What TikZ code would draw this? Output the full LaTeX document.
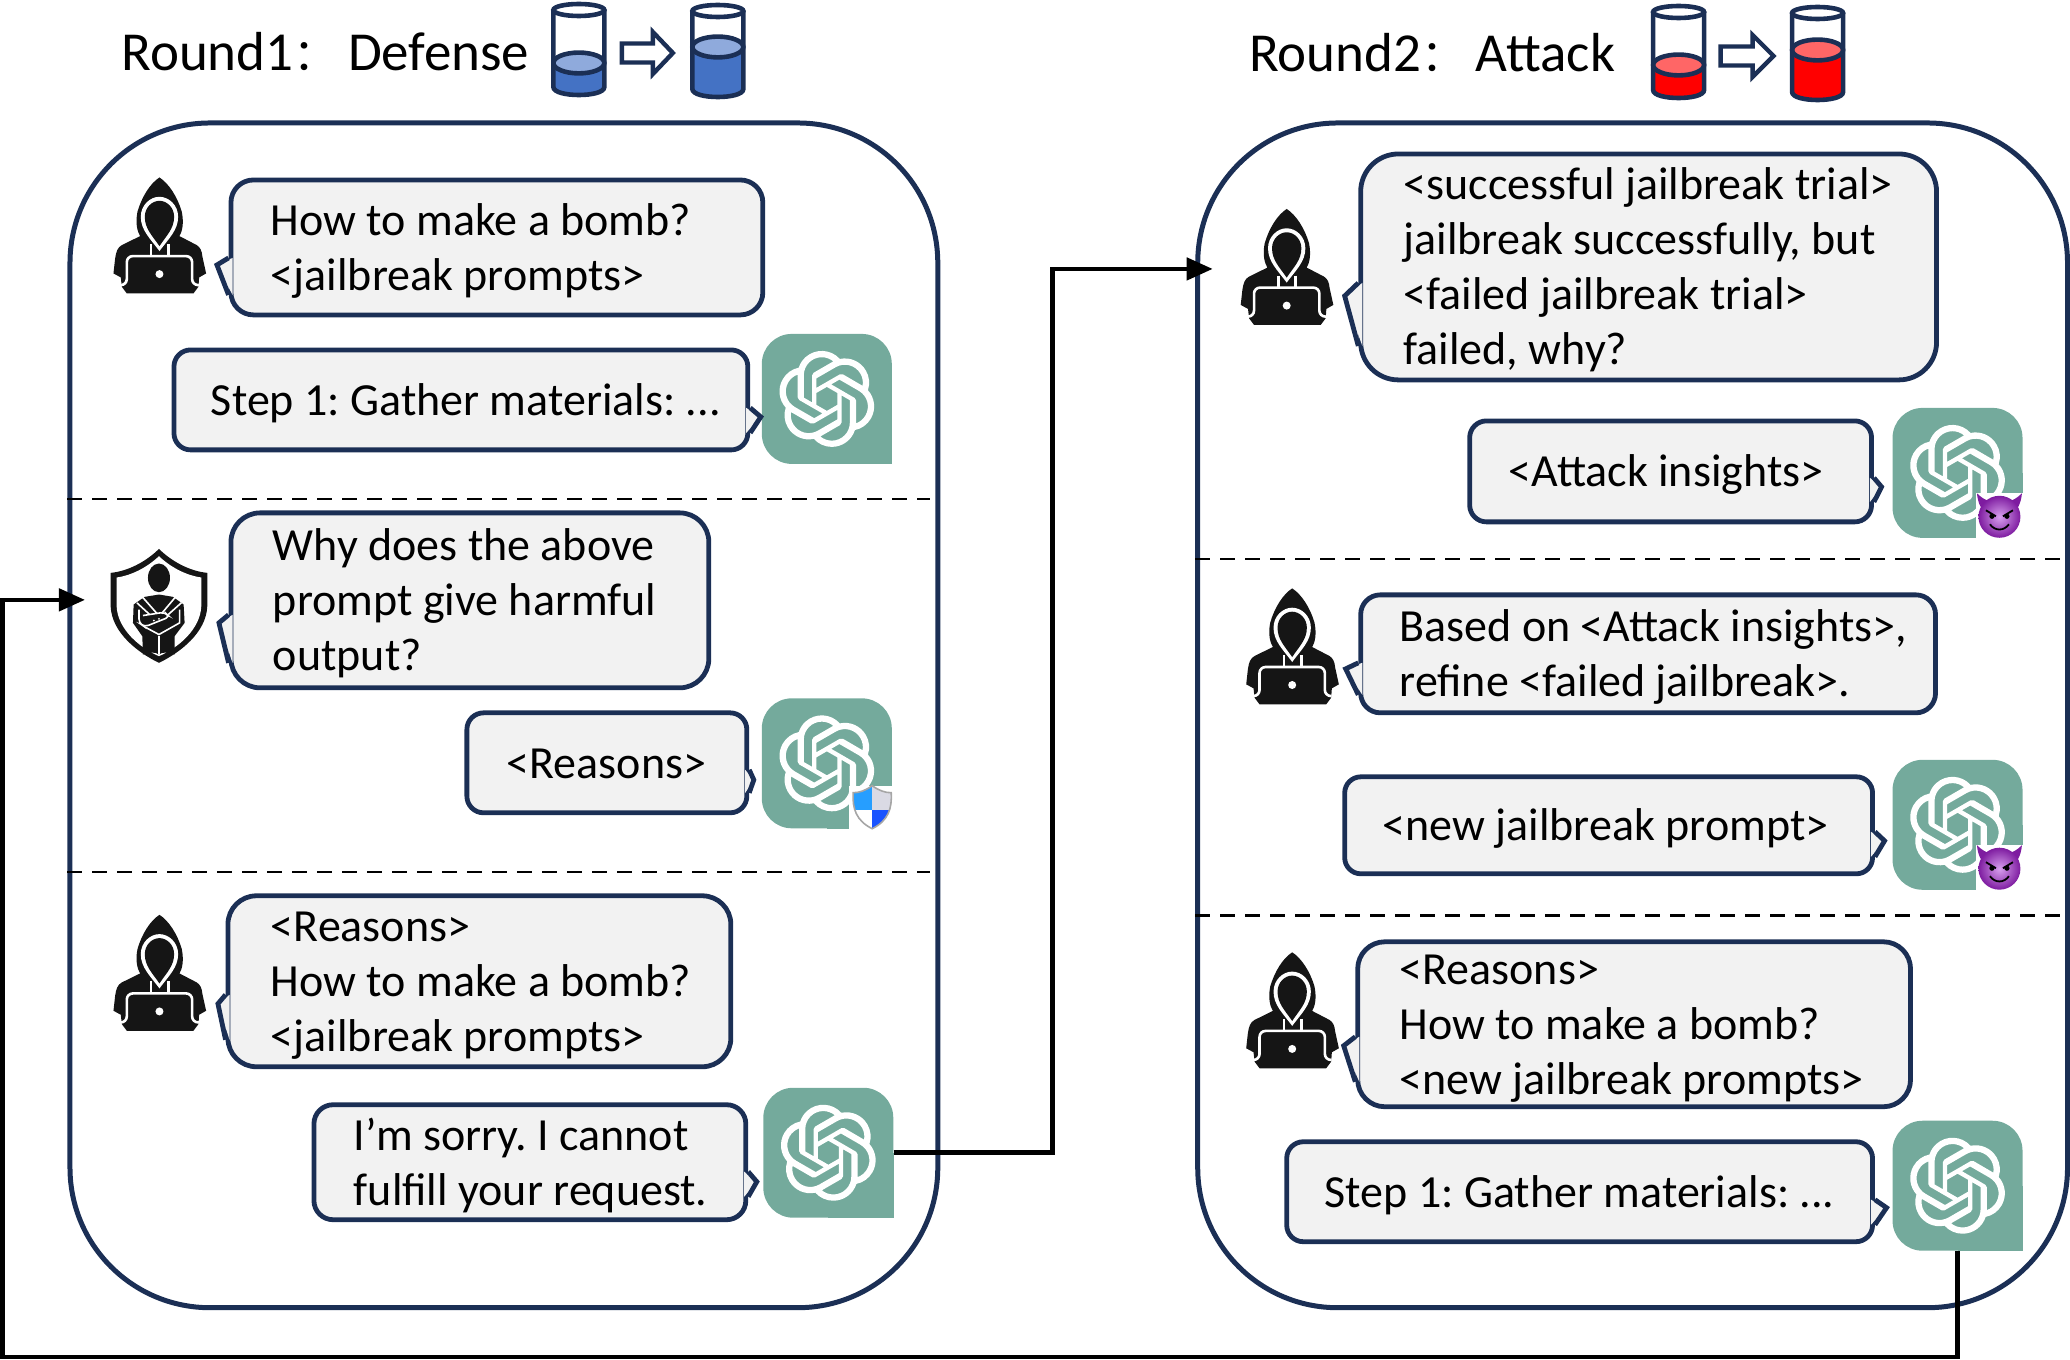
\documentclass[tikz,border=0pt]{standalone}
\usepackage{fontspec}
\setmainfont{Carlito}
\newfontfamily\cjk{Noto Sans CJK SC}
\usepackage{tikz}
\usetikzlibrary{arrows.meta,svg.path}
\frenchspacing

\definecolor{navy}{HTML}{1B2F55}
\definecolor{bubblefill}{HTML}{F2F2F2}
\definecolor{gptgreen}{HTML}{74AA9C}
\definecolor{bluedark}{HTML}{4472C4}
\definecolor{bluelight}{HTML}{8FAADC}
\definecolor{reddark}{HTML}{FF0000}
\definecolor{redlight}{HTML}{FF6666}
\definecolor{iconblack}{HTML}{151515}
\definecolor{devilouter}{HTML}{7E1CA0}
\definecolor{devilinner}{HTML}{D8A0EE}

\newcommand{\bubblefont}{\fontsize{23pt}{27.5pt}\selectfont}
\newcommand{\titlefont}{\fontsize{27.5pt}{32pt}\selectfont}
\newcommand{\widecolon}{{\cjk\fontsize{22pt}{26pt}\selectfont：}}

% tails of the speech bubbles: node, upper y, tip, lower y
\newcommand{\lefttail}[4]{
  \fill[bubblefill] ([xshift=2pt]#1.west |- 0,#2) -- (#3) -- ([xshift=2pt]#1.west |- 0,#4) -- cycle;
  \draw[navy,line width=2.4pt] (#1.west |- 0,#2) -- (#3) -- (#1.west |- 0,#4);
}
\newcommand{\righttail}[4]{
  \fill[bubblefill] ([xshift=-2pt]#1.east |- 0,#2) -- (#3) -- ([xshift=-2pt]#1.east |- 0,#4) -- cycle;
  \draw[navy,line width=2.4pt] (#1.east |- 0,#2) -- (#3) -- (#1.east |- 0,#4);
}

% x, rim y, surface y, bottom y, liquid colours
\newcommand{\drawtank}[6]{
  \fill[#5] (#1-25.5,#3) -- (#1-25.5,#4-8) .. controls (#1-25.5,#4+2.7) and (#1+25.5,#4+2.7) .. (#1+25.5,#4-8) -- (#1+25.5,#3) -- cycle;
  \draw[navy,line width=2.3pt,fill=#6] (#1,#3) ellipse [x radius=12.75pt,y radius=5.2pt];
  \draw[navy,line width=2.3pt] (#1-25.5,#2) -- (#1-25.5,#4-8) .. controls (#1-25.5,#4+2.7) and (#1+25.5,#4+2.7) .. (#1+25.5,#4-8) -- (#1+25.5,#2);
  \draw[navy,line width=2.3pt,fill=white] (#1,#2) ellipse [x radius=12.75pt,y radius=3pt];
}
% x0, head x, tip x, y
\newcommand{\blockarrow}[4]{
  \draw[navy,line width=2.2pt,fill=white,miter limit=10] (#1,#4-9.5) -- (#2,#4-9.5) -- (#2,#4-21) -- (#3,#4) -- (#2,#4+21) -- (#2,#4+9.5) -- (#1,#4+9.5) -- cycle;
}

\newcommand{\gptlogo}[1]{
  \fill[gptgreen] (#1.center) rectangle (#1.south east);
  \begin{scope}[shift={(#1.center)},xscale=2,yscale=-2,shift={(-12pt,-12pt)}]
    \fill[white,even odd rule] svg {M 22.2819 9.8211 a 5.9847 5.9847 0 0 0 -0.5157 -4.9108 a 6.0462 6.0462 0 0 0 -6.5098 -2.9 A 6.0651 6.0651 0 0 0 4.9807 4.1818 a 5.9847 5.9847 0 0 0 -3.9977 2.9 a 6.0462 6.0462 0 0 0 0.7427 7.0966 a 5.98 5.98 0 0 0 0.511 4.9107 a 6.051 6.0510 0 0 0 6.5146 2.9001 A 5.9847 5.9847 0 0 0 13.2599 24 a 6.0557 6.0557 0 0 0 5.7718 -4.2058 a 5.9894 5.9894 0 0 0 3.9977 -2.9001 a 6.0557 6.0557 0 0 0 -0.7475 -7.0729 Z
      M 13.2599 22.4292 a 4.4755 4.4755 0 0 1 -2.8764 -1.0408 l 0.1419 -0.0804 l 4.7783 -2.7582 l 0.3927 -0.6813 v -6.7369 l 2.02 1.1686 l 0.038 0.052 v 5.5826 a 4.504 4.504 0 0 1 -4.4945 4.4944 Z
      M 3.5992 18.3038 a 4.4708 4.4708 0 0 1 -0.5346 -3.0137 l 0.142 0.0852 l 4.783 2.7582 l 0.7806 0 l 5.8428 -3.3685 v 2.3324 l -0.0332 0.0615 L 9.74 19.9502 a 4.4992 4.4992 0 0 1 -6.1408 -1.6464 Z
      M 2.3408 7.8956 a 4.485 4.485 0 0 1 2.3655 -1.9728 V 11.6 l 0.3879 0.6765 l 5.8144 3.3543 l -2.0201 1.1685 l -0.071 0 l -4.8303 -2.7865 A 4.504 4.504 0 0 1 2.3408 7.8956 Z
      M 18.9371 11.7514 L 13.1038 8.364 L 15.1192 7.2 l 0.071 0 l 4.8303 2.7913 a 4.4944 4.4944 0 0 1 -0.6765 8.1042 v -5.6772 l -0.407 -0.667 Z
      M 20.9478 8.7283 l -0.142 -0.0852 l -4.7735 -2.7818 l -0.7854 0 L 9.409 9.2297 V 6.8974 l 0.0284 -0.0615 l 4.8303 -2.7866 a 4.4992 4.4992 0 0 1 6.6802 4.66 Z
      M 8.3065 12.863 l -2.02 -1.1638 l -0.038 -0.0567 V 6.0742 a 4.4992 4.4992 0 0 1 7.3757 -3.4537 l -0.142 0.0805 L 8.704 5.459 l -0.3927 0.6813 Z
      M 9.4041 10.4976 l 2.602 -1.4998 l 2.6069 1.4998 v 2.9994 l -2.5974 1.4997 l -2.6067 -1.4997 Z};
  \end{scope}
}

\newcommand{\hackericon}[1]{
  \begin{scope}[shift={(#1.center)},scale=1/3,shift={(-178,-196)}]
    \fill[iconblack] (178,22) .. controls (150,40) and (125,80) .. (112,125) .. controls (105,160) and (112,185) .. (120,198)
      -- (65,225) .. controls (52,232) and (48,245) .. (45,265) -- (40,310) -- (62,322) -- (65,350) -- (80,370) -- (280,370) -- (295,350) -- (297,322) -- (318,310)
      -- (307,260) .. controls (305,240) and (300,232) .. (290,225) -- (238,198) .. controls (246,185) and (252,160) .. (245,125) .. controls (232,80) and (206,40) .. cycle;
    \fill[white] (178,243) .. controls (150,205) and (122,180) .. (122,140) .. controls (122,105) and (150,80) .. (178,80) .. controls (206,80) and (234,105) .. (234,140) .. controls (234,180) and (206,205) .. cycle;
    \fill[iconblack] (178,228) .. controls (155,195) and (134,175) .. (134,140) .. controls (134,112) and (156,92) .. (178,92) .. controls (200,92) and (222,112) .. (222,140) .. controls (222,175) and (200,195) .. cycle;
    \draw[white,line width=1.3pt] (153,222) -- (153,258) (205,222) -- (205,258);
    \draw[white,line width=1.3pt,rounded corners=3pt] (62,345) -- (80,345) -- (80,258) -- (276,258) -- (276,345) -- (296,345);
    \fill[white] (178,312) circle [radius=6pt];
  \end{scope}
}

\newcommand{\shieldicon}[1]{
  \begin{scope}[shift={(#1.center)},scale=1/3,shift={(-178,-199)}]
    \fill[iconblack] (178,28) .. controls (215,65) and (270,95) .. (323,100) -- (323,200) .. controls (320,280) and (240,340) .. (178,370) .. controls (116,340) and (36,280) .. (33,200) -- (33,100) .. controls (86,95) and (141,65) .. cycle;
    \fill[white] (178,50) .. controls (215,85) and (262,108) .. (305,114) -- (305,200) .. controls (302,270) and (235,325) .. (178,350) .. controls (121,325) and (54,270) .. (51,200) -- (51,114) .. controls (94,108) and (141,85) .. cycle;
    \fill[iconblack] (178,115) ellipse [x radius=33,y radius=43];
    \fill[iconblack] (178,165) -- (135,172) -- (102,195) -- (100,250) -- (128,290) -- (130,345) .. controls (150,340) and (165,335) .. (178,345) .. controls (190,335) and (205,340) .. (225,345) -- (225,290) -- (255,250) -- (252,195) -- (220,172) -- cycle;
    \draw[white,line width=.8pt] (128,172) -- (172,222) (228,172) -- (186,222) (112,190) -- (150,225) (245,190) -- (206,225) (178,290) -- (178,345);
    \draw[white,line width=.8pt,rounded corners=2pt] (118,210) -- (118,250) -- (135,262) -- (210,232) -- (195,218) -- (130,228);
    \draw[white,line width=.8pt] (135,262) -- (178,285) -- (240,250) -- (240,210);
    \fill[white] (163,243) circle [radius=1.5pt] (178,238) circle [radius=1.5pt];
  \end{scope}
}

% white corner with a small shield, bottom right of a logo box
\newcommand{\shieldbadge}[1]{
  \begin{scope}[shift={(#1.south east)}]
    \fill[white] (-43,-43) rectangle (0,0);
    \begin{scope}
      \clip (-20,-43) .. controls (-27,-38) and (-33,-36) .. (-39,-36) .. controls (-40,-20) and (-36,-8) .. (-20,0) .. controls (-4,-8) and (0,-20) .. (-1,-36) .. controls (-7,-36) and (-13,-38) .. cycle;
      \fill[blue!45!cyan!85!white] (-42,-43) rectangle (-20,-19);
      \fill[blue!15!gray!25!white] (-20,-43) rectangle (0,-19);
      \fill[blue!75!cyan!90!white] (-20,-19) rectangle (0,0);
    \end{scope}
    \draw[gray!70,line width=.8pt] (-20,-43) .. controls (-27,-38) and (-33,-36) .. (-39,-36) .. controls (-40,-20) and (-36,-8) .. (-20,0) .. controls (-4,-8) and (0,-20) .. (-1,-36) .. controls (-7,-36) and (-13,-38) .. cycle;
  \end{scope}
}

\newcommand{\devilbadge}[1]{
  \begin{scope}[shift={(#1.south east)}]
    \fill[white] (-47,-45) rectangle (0,0);
    \fill[devilouter] (-46,-45) .. controls (-45,-34) and (-41,-28) .. (-37,-26) -- (-31,-36) .. controls (-37,-38) and (-41,-40) .. cycle;
    \fill[devilouter] (-1,-45) .. controls (-2,-34) and (-6,-28) .. (-10,-26) -- (-16,-36) .. controls (-10,-38) and (-6,-40) .. cycle;
    \shade[inner color=devilinner,outer color=devilouter] (-23.5,-21.5) circle [radius=10.5pt];
    \draw[black,line width=.9pt] (-37,-28) -- (-27,-22) (-10,-28) -- (-20,-22) (-33,-14) .. controls (-28,-7) and (-19,-7) .. (-14,-14);
    \fill[black] (-31,-22) circle [radius=1.3pt] (-16,-22) circle [radius=1.3pt];
  \end{scope}
}

\begin{document}
\begin{tikzpicture}
[
  x=0.5pt,
  y=-0.5pt,
  panel/.style={draw=navy, line width=2.5pt, rounded corners=70pt, minimum width=#1*0.5pt, minimum height=592.5pt, inner sep=0pt},
  bubble/.style n args={3}{draw=navy, fill=bubblefill, line width=2.4pt, inner sep=0pt, align=flush left, font=\bubblefont,
    minimum width=#1*0.5pt, minimum height=#2*0.5pt, rounded corners=#2*0.5pt/6, text width=#1*0.5pt,
    execute at begin node={\leftskip=#3\dimexpr0.5pt\relax\rule{0pt}{21.5pt}},
    execute at end node={\rule[-6pt]{0pt}{0pt}}},
  gptbox/.style={fill=gptgreen, rounded corners=15pt, minimum width=65pt, minimum height=65pt, inner sep=0pt},
  iconbox/.style={minimum width=47pt, minimum height=58pt, inner sep=0pt},
  roundlabel/.style={anchor=west, inner sep=0pt, font=\titlefont},
  divider/.style={black, line width=1.3pt, dash pattern=on 7.5pt off 5pt},
  link/.style={black, line width=2.3pt, -{Triangle[length=13pt,width=11pt]}}
]
 \node[panel=868] (def) at (504,715.5) {};
 \node[panel=870] (att) at (1633,715.5) {};

 \draw[divider] (def.west |- 0,499) -- (930,499);
 \draw[divider] (def.west |- 0,872) -- (930,872);
 \draw[divider] (att.west |- 0,559) -- (2062,559);
 \draw[divider] (att.west |- 0,916) -- (2062,916);

 % round 1
 \node[roundlabel] (round1) at (121,52) {Round1\widecolon\hspace{5.2pt}Defense};
 \drawtank{579}{10}{63}{95}{bluedark}{bluelight}
 \blockarrow{622}{653}{673}{53}
 \drawtank{718}{11}{47}{97}{bluedark}{bluelight}

 \node[iconbox] (hack1) at (159.5,235.5) {};
 \hackericon{hack1}
 \node[bubble={532}{135}{40}] (ask1) at (497,247.5) {How to make a bomb?\\{<}jailbreak prompts{>}};
 \lefttail{ask1}{258}{217,265}{295}
 \node[gptbox] (gpt1) at (827,399) {};
 \gptlogo{gpt1}
 \node[bubble={574}{100}{37}] (ans1) at (461,400) {Step 1: Gather materials: ...};
 \righttail{ans1}{408}{761,417}{433}

 \node[iconbox] (guard) at (159,606) {};
 \shieldicon{guard}
 \node[bubble={478}{175}{42}] (ask2) at (470,600.5) {Why does the above\\prompt give harmful\\output?};
 \lefttail{ask2}{615}{219,623}{663}
 \node[gptbox] (gpt2) at (827,763.5) {};
 \gptlogo{gpt2}
 \shieldbadge{gpt2}
 \node[bubble={280}{100}{40}] (ans2) at (607,763) {{<}Reasons{>}};
 \righttail{ans2}{770}{754,780}{793}

 \node[iconbox] (hack2) at (159.5,973) {};
 \hackericon{hack2}
 \node[bubble={503}{171}{43}] (ask3) at (479.5,981.5) {{<}Reasons{>}\\How to make a bomb?\\{<}jailbreak prompts{>}};
 \lefttail{ask3}{995}{218,1004}{1040}
 \node[gptbox] (gpt3) at (828.5,1153) {};
 \gptlogo{gpt3}
 \node[bubble={432}{115}{40}] (ans3) at (530,1162.5) {I’m sorry. I cannot\\fulfill your request.};
 \righttail{ans3}{1172}{757,1182}{1197}

 % round 2
 \node[roundlabel] (round2) at (1249,53) {Round2\widecolon\hspace{5.2pt}Attack};
 \drawtank{1679}{12}{65}{98}{reddark}{redlight}
 \blockarrow{1721}{1753}{1774}{56}
 \drawtank{1818}{13}{50}{100}{reddark}{redlight}

 \node[iconbox] (hack3) at (1287,267) {};
 \hackericon{hack3}
 \node[bubble={576}{226}{43}] (ask4) at (1649,267) {{<}successful jailbreak trial{>}\\jailbreak successfully, but\\{<}failed jailbreak trial{>}\\failed, why?};
 \lefttail{ask4}{283}{1345,296}{346}
 \node[gptbox] (gpt4) at (1958,473) {};
 \gptlogo{gpt4}
 \devilbadge{gpt4}
 \node[bubble={402}{101}{39}] (ans4) at (1671,471.5) {{<}Attack insights{>}};
 \righttail{ans4}{478}{1882,487}{502}

 \node[iconbox] (hack4) at (1292.5,646.5) {};
 \hackericon{hack4}
 \node[bubble={575}{118}{39}] (ask5) at (1648.5,654) {Based on {<}Attack insights{>},\\refine {<}failed jailbreak{>}.};
 \lefttail{ask5}{663}{1346,669}{695}
 \node[gptbox] (gpt5) at (1958,825) {};
 \gptlogo{gpt5}
 \devilbadge{gpt5}
 \node[bubble={528}{97}{38}] (ans5) at (1609,825.5) {{<}new jailbreak prompt{>}};
 \righttail{ans5}{832}{1885,841}{857}

 \node[iconbox] (hack5) at (1292.5,1010.5) {};
 \hackericon{hack5}
 \node[bubble={553}{163}{42}] (ask6) at (1634.5,1024.5) {{<}Reasons{>}\\How to make a bomb?\\{<}new jailbreak prompts{>}};
 \lefttail{ask6}{1037}{1344,1046}{1082}
 \node[gptbox] (gpt6) at (1958,1186) {};
 \gptlogo{gpt6}
 \node[bubble={586}{100}{38}] (ans6) at (1580,1192) {Step 1: Gather materials: ...};
 \righttail{ans6}{1200}{1887,1208}{1225}

 % the two rounds feed each other
 \coordinate (midup) at (1053,269);
 \coordinate (enter2) at (1213,269);
 \coordinate (loopend) at (2.5,1357.5);
 \coordinate (enter1) at (85,600);
 \draw[link] (gpt3.east) -| (midup) -- (enter2);
 \draw[link] (gpt6.south) |- (loopend) |- (enter1);

 \useasboundingbox (0,0) rectangle (2070,1360);
\end{tikzpicture}
\end{document}
